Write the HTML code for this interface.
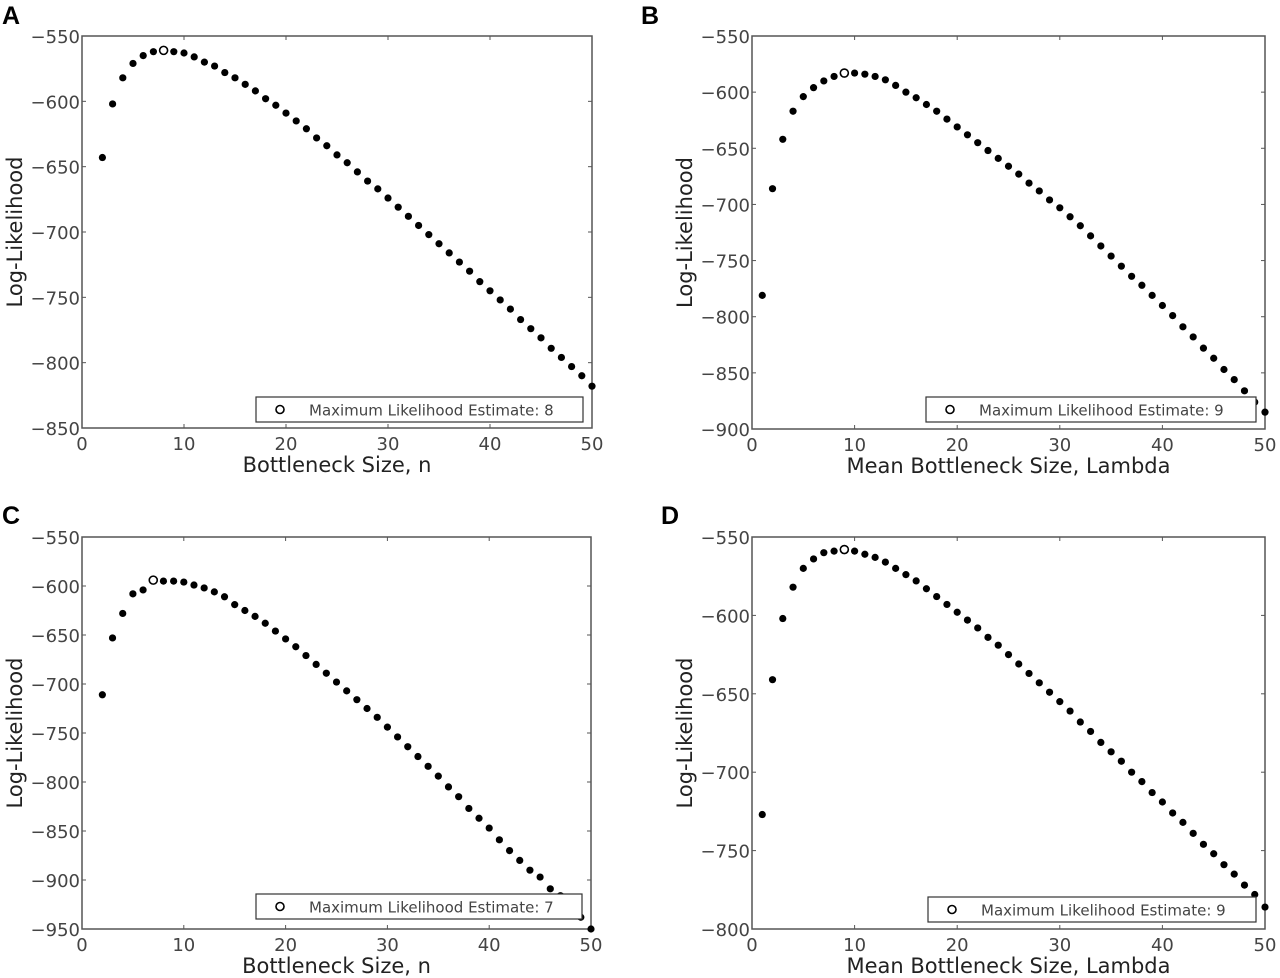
<!DOCTYPE html>
<html><head><meta charset="utf-8"><style>
html,body{margin:0;padding:0;background:#fff;}
svg{display:block;font-family:"DejaVu Sans","Liberation Sans",sans-serif;}
</style></head><body>
<svg id="fig" width="1280" height="978" viewBox="0 0 1280 978" xmlns="http://www.w3.org/2000/svg"></svg>
<script>
const xTicks = [0,10,20,30,40,50];
const yTicksA = [-550,-600,-650,-700,-750,-800,-850];
const yTicksB = [-550,-600,-650,-700,-750,-800,-850,-900];
const yTicksC = [-550,-600,-650,-700,-750,-800,-850,-900,-950];
const yTicksD = [-550,-600,-650,-700,-750,-800];
const xA = [2,3,4,5,6,7,8,9,10,11,12,13,14,15,16,17,18,19,20,21,22,23,24,25,26,27,28,29,30,31,32,33,34,35,36,37,38,39,40,41,42,43,44,45,46,47,48,49,50];
const valsA = [-643,-602,-582,-571,-565,-562,-561,-562,-563,-566,-570,-573,-578,-582,-587,-592,-598,-603,-609,-615,-621,-628,-634,-641,-647,-654,-661,-667,-674,-681,-688,-695,-702,-709,-716,-723,-730,-738,-745,-752,-759,-767,-774,-781,-789,-796,-803,-810,-818];
const xB = [1,2,3,4,5,6,7,8,9,10,11,12,13,14,15,16,17,18,19,20,21,22,23,24,25,26,27,28,29,30,31,32,33,34,35,36,37,38,39,40,41,42,43,44,45,46,47,48,49,50];
const valsB = [-781,-686,-642,-617,-604,-596,-590,-586,-583,-583,-584,-586,-589,-594,-600,-605,-611,-617,-624,-631,-638,-645,-652,-659,-666,-673,-681,-688,-696,-703,-711,-719,-728,-737,-746,-755,-764,-772,-781,-790,-799,-809,-818,-828,-837,-847,-856,-866,-876,-885];
const xC = [2,3,4,5,6,7,8,9,10,11,12,13,14,15,16,17,18,19,20,21,22,23,24,25,26,27,28,29,30,31,32,33,34,35,36,37,38,39,40,41,42,43,44,45,46,47,48,49,50];
const valsC = [-711,-653,-628,-608,-604,-594,-595,-595,-596,-599,-602,-606,-611,-619,-625,-631,-638,-646,-654,-662,-671,-680,-689,-698,-707,-716,-725,-734,-744,-754,-764,-774,-784,-794,-805,-815,-827,-837,-847,-859,-870,-880,-890,-897,-909,-916,-927,-938,-950];
const xD = [1,2,3,4,5,6,7,8,9,10,11,12,13,14,15,16,17,18,19,20,21,22,23,24,25,26,27,28,29,30,31,32,33,34,35,36,37,38,39,40,41,42,43,44,45,46,47,48,49,50];
const valsD = [-727,-641,-602,-582,-570,-564,-560,-559,-558,-559,-561,-563,-566,-570,-574,-578,-583,-588,-593,-598,-603,-608,-614,-619,-625,-631,-637,-643,-649,-655,-661,-668,-674,-681,-687,-693,-700,-706,-713,-719,-726,-732,-739,-746,-752,-759,-765,-772,-778,-786];
const mleX = [8,9,7,9];
const NS = "http://www.w3.org/2000/svg";
const fig = document.getElementById('fig');
function mk(tag, attrs, parent){const e=document.createElementNS(NS,tag);for(const k in attrs)e.setAttribute(k,attrs[k]);parent.appendChild(e);return e;}

function panel(cfg){
  const g = mk('g',{},fig);
  
  
  const L=cfg.l,R=cfg.r,T=cfg.t,B=cfg.b;
  const ymax=cfg.yt[0], ymin=cfg.yt[cfg.yt.length-1];
  const sx=v=>L+(v-0)/50*(R-L);
  const sy=v=>T+(ymax-v)/(ymax-ymin)*(B-T);
  const lab=mk('text',{x:cfg.lx,y:cfg.ly,'font-size':25,'font-weight':'bold',fill:'#000','font-family':'Liberation Sans, sans-serif'},g);
  lab.textContent=cfg.id;
  
  
  const clipId='clip'+cfg.id;
  const cp=mk('clipPath',{id:clipId},g);
  mk('rect',{x:L-4,y:T-4,width:R-L+8,height:B-T+8},cp);
  const frame=mk('rect',{x:L,y:T,width:R-L,height:B-T,fill:'none',stroke:'#555','stroke-width':1.5},g);
  
  
  xTicks.forEach(t=>{
    const x=sx(t);
    mk('line',{x1:x,y1:B,x2:x,y2:B-4,stroke:'#555'},g);
    mk('line',{x1:x,y1:T,x2:x,y2:T+4,stroke:'#555'},g);
    const tx=mk('text',{x:x,y:B+22,'font-size':18,'text-anchor':'middle',fill:'#444'},g);
    tx.textContent=t;
    
    
  });
  cfg.yt.forEach(t=>{
    const y=sy(t);
    mk('line',{x1:L,y1:y,x2:L+4,y2:y,stroke:'#555'},g);
    mk('line',{x1:R,y1:y,x2:R-4,y2:y,stroke:'#555'},g);
    const ty=mk('text',{x:L-2,y:y+7,'font-size':18,'text-anchor':'end',fill:'#444'},g);
    ty.textContent='\u2212'+Math.abs(t);
    
    
  });
  const xt=mk('text',{x:(L+R)/2,y:B+44,'font-size':21,'text-anchor':'middle',fill:'#222'},g);
  xt.textContent=cfg.xtitle;
  
  
  const yc=(T+B)/2, yx=L-60;
  const yt=mk('text',{x:yx,y:yc,'font-size':21,'text-anchor':'middle',fill:'#222',transform:`rotate(-90 ${yx} ${yc})`},g);
  yt.textContent='Log-Likelihood';
  
  
  const pts=mk('g',{'clip-path':`url(#${clipId})`},g);
  cfg.xs.forEach((xv,i)=>{
    const isM = xv===cfg.mle;
    const c=mk('circle',{cx:sx(xv),cy:sy(cfg.vals[i]),r:isM?4:3.6,fill:isM?'#fff':'#000',stroke:'#000','stroke-width':isM?1.6:0},pts);
    
    
  });
  const lg=mk('g',{},g);
  
  
  mk('rect',{x:cfg.lgx,y:cfg.lgy,width:R-9-cfg.lgx,height:25,fill:'#fff',stroke:'#333','stroke-width':1.2},lg);
  mk('circle',{cx:cfg.lgx+24,cy:cfg.lgy+12.5,r:4,fill:'#fff',stroke:'#000','stroke-width':1.6},lg);
  const lt=mk('text',{x:cfg.lgx+53,y:cfg.lgy+18.5,'font-size':15,fill:'#444'},lg);
  lt.textContent='Maximum Likelihood Estimate: '+cfg.mle;
  
  
}
panel({id:'A',l:82,r:592,t:36,b:428,lx:2,ly:24,yt:yTicksA,xs:xA,vals:valsA,mle:mleX[0],xtitle:'Bottleneck Size, n',lgx:256,lgy:397});
panel({id:'B',l:752,r:1265,t:36,b:429,lx:641,ly:24,yt:yTicksB,xs:xB,vals:valsB,mle:mleX[1],xtitle:'Mean Bottleneck Size, Lambda',lgx:926,lgy:397});
panel({id:'C',l:82,r:591,t:537,b:929,lx:2,ly:524,yt:yTicksC,xs:xC,vals:valsC,mle:mleX[2],xtitle:'Bottleneck Size, n',lgx:256,lgy:894});
panel({id:'D',l:752,r:1265,t:537,b:929,lx:661,ly:524,yt:yTicksD,xs:xD,vals:valsD,mle:mleX[3],xtitle:'Mean Bottleneck Size, Lambda',lgx:928,lgy:897});
</script>
</body></html>
